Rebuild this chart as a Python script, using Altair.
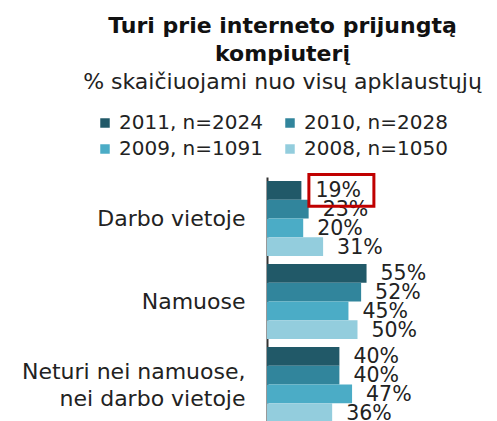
import altair as alt
import pandas as pd

categories = ["Darbo vietoje", "Namuose", "Neturi nei namuose,\nnei darbo vietoje"]
years = ["2011, n=2024", "2010, n=2028", "2009, n=1091", "2008, n=1050"]
colors = ["#215968", "#31859C", "#4BACC6", "#93CDDD"]
values = {
    "2011, n=2024": [19, 55, 40],
    "2010, n=2028": [23, 52, 40],
    "2009, n=1091": [20, 45, 47],
    "2008, n=1050": [31, 50, 36],
}
highlight = ("Darbo vietoje", "2011, n=2024")

rows = []
for y in years:
    for c, v in zip(categories, values[y]):
        rows.append({"cat": c, "year": y, "pct": v,
                     "label": f"{v}%",
                     "hl": (c, y) == highlight})
df = pd.DataFrame(rows)

FONT = "DejaVu Sans"

y_enc = alt.Y("cat:N", sort=categories, title=None,
              scale=alt.Scale(paddingInner=0.0964, paddingOuter=0.0482),
              axis=alt.Axis(labelExpr="split(datum.label, '\\n')", labelFontSize=22,
                            labelFont=FONT, labelColor="#222222", labelPadding=22,
                            labelLineHeight=27,
                            labelOffset={"condition": {"test": "indexof(datum.value, '\\n') >= 0",
                                                       "value": -13},
                                         "value": 0},
                            ticks=False, domainColor="#333333",
                            domainWidth=2, labelLimit=400))
yoff = alt.YOffset("year:N", sort=years)
x_enc = alt.X("pct:Q", scale=alt.Scale(domain=[0, 100]), axis=None)

bars = alt.Chart(df).mark_bar(size=18.75).encode(
    y=y_enc, yOffset=yoff, x=x_enc,
    color=alt.Color("year:N", sort=years,
                    scale=alt.Scale(domain=years, range=colors),
                    legend=alt.Legend(title=None, orient="none", legendX=-172, legendY=-64,
                                      columns=2, direction="horizontal",
                                      columnPadding=17, rowPadding=6,
                                      symbolType="square", symbolSize=90,
                                      symbolStrokeWidth=0, labelFontSize=20,
                                      labelFont=FONT, labelColor="#222222",
                                      labelLimit=300)),
)

labels = alt.Chart(df).mark_text(align="left", baseline="middle", dx=14, dy=1,
                                 fontSize=20.5, font=FONT, color="#222222").encode(
    y=y_enc, yOffset=yoff, x=x_enc, text="label:N"
)

box = alt.Chart(df[df["hl"]]).mark_point(
    shape="M-1,-0.49 L1,-0.49 L1,0.49 L-1,0.49 Z", size=4225,
    filled=False, stroke="#C00000", strokeWidth=3, xOffset=40, yOffset=0.5, opacity=1
).encode(y=y_enc, yOffset=yoff, x=x_enc)

chart = alt.layer(bars, labels, box).properties(
    width=181, height=249,
    autosize=alt.AutoSizeParams(type="none"),
    padding={"left": 259, "top": 169, "right": 41, "bottom": 0},
    title=alt.Title(["Turi prie interneto prijungtą", "kompiuterį"],
                    subtitle="% skaičiuojami nuo visų apklaustųjų",
                    font=FONT, fontSize=22, fontWeight="bold", color="#111111",
                    subtitleFont=FONT, subtitleFontSize=22, subtitleColor="#222222",
                    lineHeight=28, subtitleLineHeight=28, subtitlePadding=6,
                    anchor="middle", dx=-75, offset=19),
).configure_view(stroke=None)

chart.save("out.html", embed_options={"renderer": "svg", "actions": False})
